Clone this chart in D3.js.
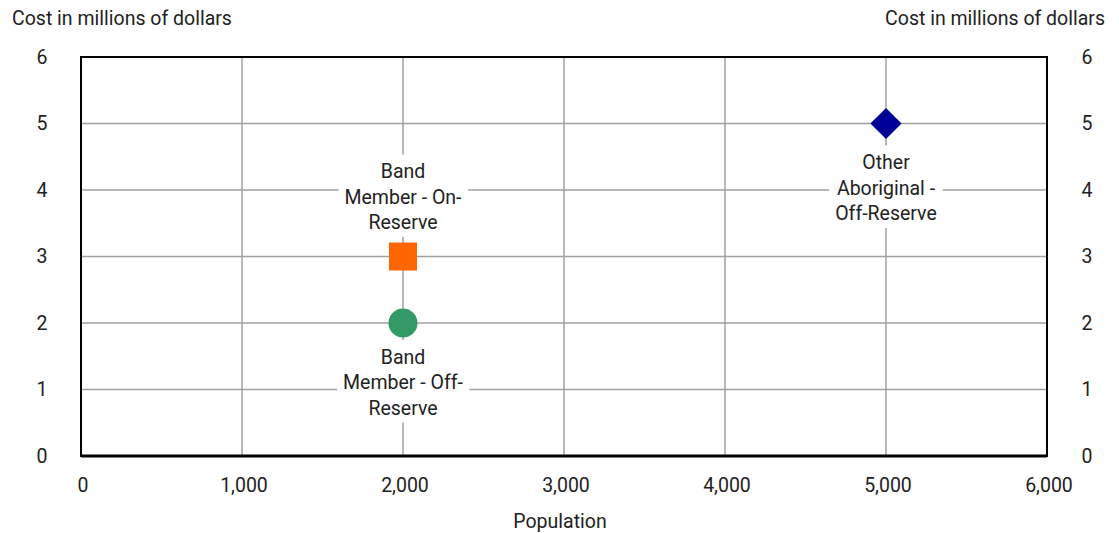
<!DOCTYPE html>
<html><head><meta charset="utf-8">
<script src="https://cdn.jsdelivr.net/npm/d3@7"></script>
<style>
body{margin:0;background:#fff;}
text{font-family:Roboto,"Liberation Sans",sans-serif;fill:#222;}
</style></head><body>
<script>
const xTicks=[0,1000,2000,3000,4000,5000,6000];
const yTicks=[0,1,2,3,4,5,6];
const names=["Band Member - On-Reserve","Band Member - Off-Reserve","Other Aboriginal - Off-Reserve"];
const population=[2000,2000,5000];
const cost=[3,2,5];
const shapes=["square","circle","diamond"];
const colors=["#FF6600","#339966","#000099"];
const labelLines=[["Band","Member - On-","Reserve"],["Band","Member - Off-","Reserve"],["Other","Aboriginal -","Off-Reserve"]];
const labelPos=["above","below","below"];

const W=1119,H=533;
const m={l:81,r:1047,t:57,b:456};
const svg=d3.select("body").append("svg").attr("width",W).attr("height",H);
const x=d3.scaleLinear().domain([0,6000]).range([m.l,m.r]);
const y=d3.scaleLinear().domain([0,6]).range([m.b,m.t]);
const fmt=d3.format(",");

// grid
svg.append("g").selectAll("line").data(xTicks.slice(1,-1)).join("line")
  .attr("x1",d=>x(d)).attr("x2",d=>x(d)).attr("y1",m.t).attr("y2",m.b)
  .attr("stroke","#a0a0a0").attr("stroke-width",1.5);
svg.append("g").selectAll("line").data(yTicks.slice(1,-1)).join("line")
  .attr("y1",d=>y(d)).attr("y2",d=>y(d)).attr("x1",m.l).attr("x2",m.r)
  .attr("stroke","#a0a0a0").attr("stroke-width",1.5);
// border
svg.append("rect").attr("x",m.l).attr("y",m.t).attr("width",m.r-m.l).attr("height",m.b-m.t)
  .attr("fill","none").attr("stroke","#000").attr("stroke-width",2);
svg.append("line").attr("x1",m.l).attr("x2",m.r).attr("y1",m.b).attr("y2",m.b).attr("stroke","#000").attr("stroke-width",3);

const fs=19.5;
// y tick labels
svg.append("g").selectAll("text").data(yTicks).join("text")
  .attr("x",42).attr("y",d=>y(d)).attr("dy","0.35em").attr("text-anchor","middle")
  .attr("font-size",fs).text(d=>d);
svg.append("g").selectAll("text").data(yTicks).join("text")
  .attr("x",1087).attr("y",d=>y(d)).attr("dy","0.35em").attr("text-anchor","middle")
  .attr("font-size",fs).text(d=>d);
// x tick labels
svg.append("g").selectAll("text").data(xTicks).join("text")
  .attr("x",d=>x(d)+2).attr("y",485).attr("dy","0.35em").attr("text-anchor","middle")
  .attr("font-size",fs).text(d=>fmt(d));
// titles
svg.append("text").attr("x",12).attr("y",25).attr("font-size",fs).text("Cost in millions of dollars");
svg.append("text").attr("x",1105).attr("y",25).attr("text-anchor","end").attr("font-size",fs).text("Cost in millions of dollars");
svg.append("text").attr("x",560).attr("y",528).attr("text-anchor","middle").attr("font-size",fs).text("Population");

// labels
const lh=25.5;
const offs=[-98,21,26];
names.forEach((n,i)=>{
  const cx=x(population[i]), cy=y(cost[i]);
  const lines=labelLines[i];
  const top = cy+offs[i];
  const g=svg.append("g");
  const tg=g.append("g");
  lines.forEach((t,j)=>{
    tg.append("text").attr("x",cx).attr("y",top+lh*j+lh/2).attr("dy","0.35em")
      .attr("text-anchor","middle").attr("font-size",fs).text(t);
  });
  const bb=tg.node().getBBox();
  g.insert("rect","g").attr("x",bb.x-6).attr("y",top-4).attr("width",bb.width+12).attr("height",lh*lines.length+6).attr("fill","#fff");
});

// markers
const sym={square:d3.symbolSquare,circle:d3.symbolCircle,diamond:d3.symbolSquare};
const sizes={square:28*28,circle:Math.PI*14.5*14.5,diamond:22*22};
svg.append("g").selectAll("path").data(d3.range(names.length)).join("path")
  .attr("transform",i=>`translate(${x(population[i])},${y(cost[i])})`+(shapes[i]==="diamond"?" rotate(45)":""))
  .attr("d",i=>d3.symbol(sym[shapes[i]],sizes[shapes[i]])())
  .attr("fill",i=>colors[i]);
</script>
</body></html>
